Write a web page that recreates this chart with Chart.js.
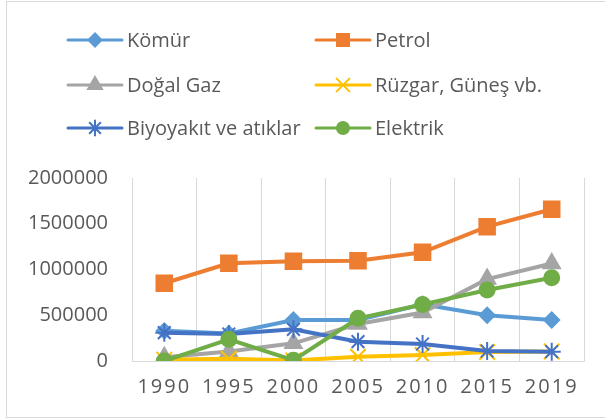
<!DOCTYPE html>
<html>
<head>
<meta charset="utf-8">
<script src="https://cdn.jsdelivr.net/npm/chart.js@4/dist/chart.umd.min.js"></script>
<style>
  body { margin: 0; background: #fff; }
  #frame { position: absolute; left: 6px; top: 1px; width: 640px; height: 415px; border: 1px solid #d9d9d9; }
  #wrap { position: absolute; left: 0; top: 0; width: 605px; height: 419px; }
</style>
</head>
<body>
<div id="frame"></div>
<div id="wrap"><canvas id="myChart" width="605" height="419"></canvas></div>
<script>
// donnees
let years = ['1990', '1995', '2000', '2005', '2010', '2015', '2019']
let komur = [330000, 300000, 448000, 448000, 620000, 500000, 448000]
let petrol = [850000, 1068000, 1090000, 1096000, 1188000, 1468000, 1658000]
let dogalGaz = [40000, 105000, 193000, 404000, 530000, 895000, 1065000]
let ruzgar = [15000, 25000, 5000, 47000, 66000, 98000, 105000]
let biyoyakit = [310000, 295000, 346000, 211000, 186000, 109000, 102000]
let elektrik = [0, 237000, 8000, 466000, 618000, 776000, 910000]
let yTicks = [0, 500000, 1000000, 1500000, 2000000]

const textColor = '#595959'
const fontName = "'Open Sans', sans-serif"

function serie(label, data, color, style, radius, order) {
  return {
    label: label,
    data: data,
    borderColor: color,
    backgroundColor: color,
    borderWidth: 4,
    pointStyle: style,
    pointRadius: radius,
    pointBorderWidth: 2,
    pointBackgroundColor: color,
    pointBorderColor: color,
    tension: 0,
    order: order
  }
}

let data = {
  labels: years,
  datasets: [
    serie('Kömür', komur, '#5b9bd5', 'rectRot', 7.5, 5),
    serie('Petrol', petrol, '#ed7d31', 'rect', 11, 4),
    serie('Doğal Gaz', dogalGaz, '#a5a5a5', 'triangle', 9.5, 3),
    serie('Rüzgar, Güneş vb.', ruzgar, '#ffc000', 'crossRot', 11, 2),
    serie('Biyoyakıt ve atıklar', biyoyakit, '#4472c4', 'star', 9, 1),
    serie('Elektrik', elektrik, '#70ad47', 'circle', 7.5, 0)
  ]
}

// legende maison : trait + marqueur comme dans Excel
let legendRadius = { rectRot: 6.5, rect: 8.5, triangle: 8, crossRot: 9, star: 7.5, circle: 6 }
const legendPlugin = {
  id: 'excelLegend',
  afterDraw(chart) {
    const ctx = chart.ctx
    const cols = [68, 316]
    const rows = [40, 85, 128]
    chart.data.datasets.forEach((ds, i) => {
      const x = cols[i % 2]
      const y = rows[Math.floor(i / 2)]
      ctx.save()
      ctx.strokeStyle = ds.borderColor
      ctx.lineWidth = 3
      ctx.lineCap = 'round'
      ctx.beginPath()
      ctx.moveTo(x, y)
      ctx.lineTo(x + 54, y)
      ctx.stroke()
      ctx.fillStyle = ds.borderColor
      ctx.lineWidth = 2
      Chart.helpers.drawPoint(ctx, { pointStyle: ds.pointStyle, radius: legendRadius[ds.pointStyle], rotation: 0, borderWidth: 2 }, x + 27, y)
      ctx.fillStyle = textColor
      ctx.font = '20px ' + fontName
      ctx.textBaseline = 'middle'
      ctx.textAlign = 'left'
      ctx.fillText(ds.label, x + 59, y + 1)
      ctx.restore()
    })
  }
}

// espacement des lettres des annees
const spacingPlugin = {
  id: 'xSpacing',
  beforeDraw(chart) {
    const s = chart.scales.x
    if (s && !s._spaced) {
      const orig = s.drawLabels.bind(s)
      s.drawLabels = function (area) {
        chart.ctx.save()
        chart.ctx.letterSpacing = '2px'
        orig(area)
        chart.ctx.restore()
      }
      s._spaced = true
    }
  }
}

const lineCanvas = document.getElementById('myChart')

const myChart = new Chart(lineCanvas, {
  type: 'line',
  data: data,
  options: {
    responsive: false,
    animation: false,
    layout: { padding: { top: 178, left: 10, right: 21, bottom: 18 } },
    plugins: {
      legend: { display: false },
      tooltip: { enabled: false }
    },
    scales: {
      x: {
        offset: true,
        grid: { display: true, offset: true, color: '#d9d9d9', lineWidth: 1, drawTicks: false },
        border: { display: true, color: '#d9d9d9', width: 1 },
        ticks: { color: textColor, font: { family: fontName, size: 20 }, padding: 14, maxRotation: 0 },
        afterFit(s) { s.height = 40 }
      },
      y: {
        min: 0,
        max: 2000000,
        afterBuildTicks(s) { s.ticks = yTicks.map(v => ({ value: v })) },
        grid: { display: false, drawTicks: false },
        border: { display: false },
        ticks: {
          color: textColor,
          font: { family: fontName, size: 20 },
          padding: 24,
          callback: v => String(v)
        },
        afterFit(s) { s.width = 122 }
      }
    }
  },
  plugins: [legendPlugin, spacingPlugin]
})
</script>
</body>
</html>
